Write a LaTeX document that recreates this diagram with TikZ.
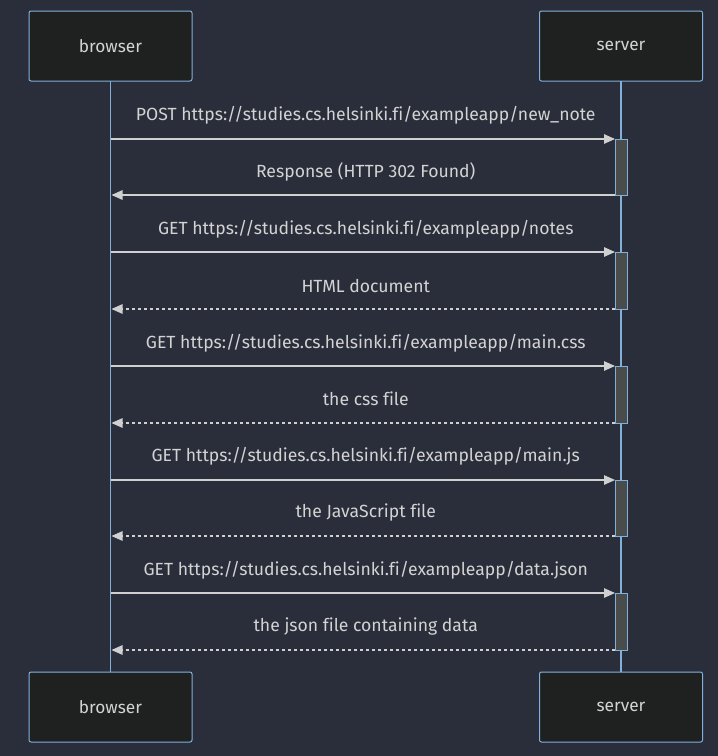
\documentclass[tikz,border=0pt]{standalone}
\usepackage{fontspec}
\setmainfont{Fira Sans}[Ligatures=NoCommon]
\usetikzlibrary{arrows.meta}
\definecolor{bg}{HTML}{2A2E3A}
\definecolor{boxfill}{HTML}{1F2020}
\definecolor{boxline}{HTML}{81B1DB}
\definecolor{txt}{HTML}{D3D3D3}
\definecolor{sig}{HTML}{D0D0D0}
\definecolor{actfill}{HTML}{4A4B4B}
\tikzset{
  x=1pt,y=-1pt,
  actor/.style={draw=boxline,fill=boxfill,rounded corners=2pt,line width=1pt,minimum width=163pt,minimum height=70pt,text=txt,font=\fontsize{17.3}{20}\selectfont,inner sep=0pt},
  lifeline/.style={draw=boxline,line width=1.5pt},
  actbar/.style={draw=boxline,fill=actfill,line width=0.8pt},
  msg/.style={draw=sig,line width=1.3pt,-{Triangle[length=11pt,width=9.5pt]}},
  reply/.style={msg,dash pattern=on 3pt off 3pt},
  lbl/.style={text=txt,font=\fontsize{17.6}{20}\selectfont,inner sep=0pt,anchor=center}
}
\begin{document}
\begin{tikzpicture}
\fill[bg] (0,0) rectangle (718,756);
\useasboundingbox (0,0) rectangle (718,756);
% lifelines
\coordinate (bt) at (110.5,81);
\coordinate (bb) at (110.5,672);
\coordinate (st) at (621,81);
\coordinate (sb) at (621,672);
\draw[lifeline] (bt) -- (bb);
\draw[lifeline] (st) -- (sb);
% actors
\node[actor] (b1) at (110.5,46) {browser};
\node[actor] (s1) at (621,46) {server};
\node[actor] (b2) at (110.5,707) {browser};
\node[actor] (s2) at (621,707) {server};
% activation bars
\foreach \i/\ya/\yb in {1/139/195,2/252/309,3/366/423,4/480/536,5/593/650}{
  \draw[actbar] (615,\ya) rectangle (627,\yb);
  \coordinate (rq\i) at (110.5,\ya);
  \coordinate (rqe\i) at (615,\ya);
  \coordinate (rs\i) at (615,\yb);
  \coordinate (rse\i) at (111.5,\yb);
}
% messages
\draw[msg] (rq1) -- (rqe1);
\node[lbl] (l1) at (365.75,115) {POST https://studies.cs.helsinki.fi/exampleapp/new\_note};
\draw[msg] (rs1) -- (rse1);
\node[lbl] (l2) at (365.75,172) {Response (HTTP 302 Found)};
\draw[msg] (rq2) -- (rqe2);
\node[lbl] (l3) at (365.75,229) {GET https://studies.cs.helsinki.fi/exampleapp/notes};
\draw[reply] (rs2) -- (rse2);
\node[lbl] (l4) at (365.75,286) {HTML document};
\draw[msg] (rq3) -- (rqe3);
\node[lbl] (l5) at (365.75,343) {GET https://studies.cs.helsinki.fi/exampleapp/main.css};
\draw[reply] (rs3) -- (rse3);
\node[lbl] (l6) at (365.75,399) {the css file};
\draw[msg] (rq4) -- (rqe4);
\node[lbl] (l7) at (365.75,456) {GET https://studies.cs.helsinki.fi/exampleapp/main.js};
\draw[reply] (rs4) -- (rse4);
\node[lbl] (l8) at (365.75,513) {the JavaScript file};
\draw[msg] (rq5) -- (rqe5);
\node[lbl] (l9) at (365.75,570) {GET https://studies.cs.helsinki.fi/exampleapp/data.json};
\draw[reply] (rs5) -- (rse5);
\node[lbl] (l10) at (365.75,627) {the json file containing data};
\end{tikzpicture}
\end{document}
